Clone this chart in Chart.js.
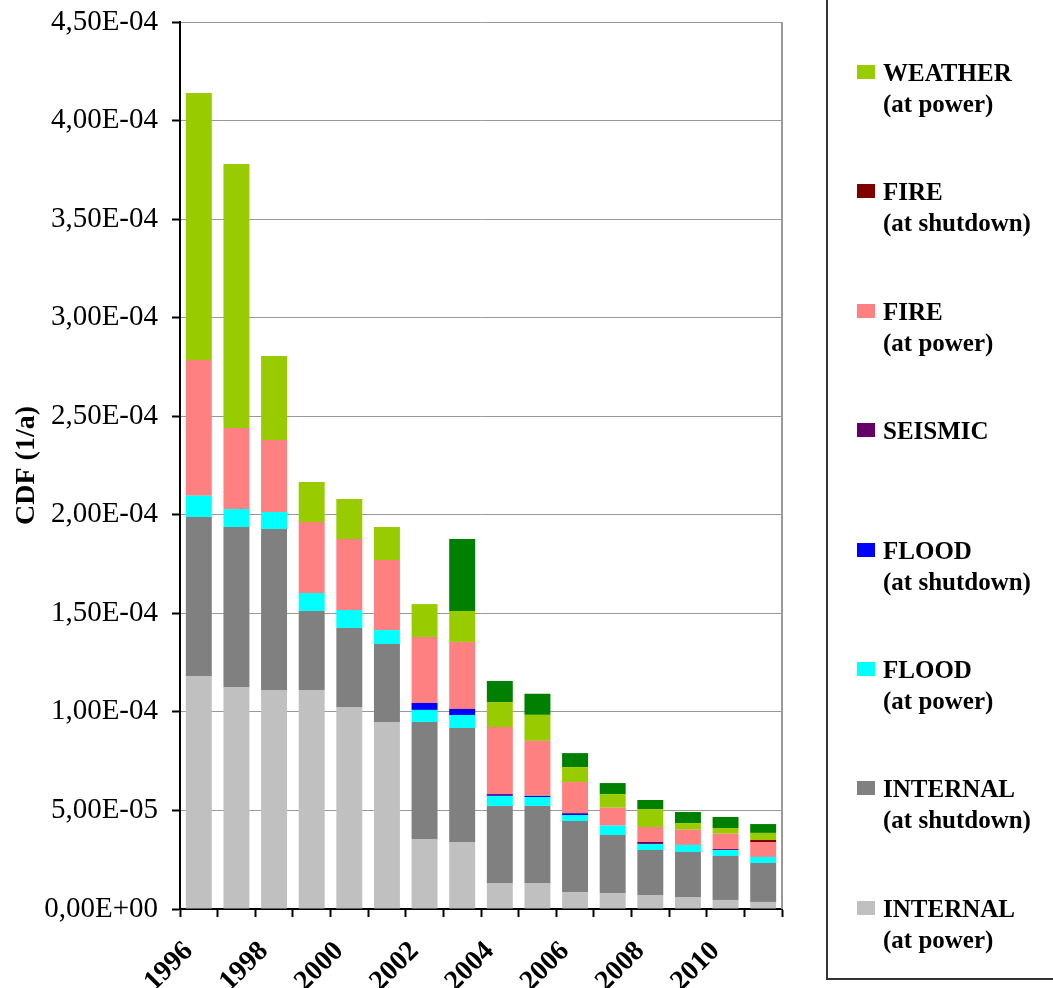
<!DOCTYPE html>
<html>
<head>
<meta charset="utf-8">
<script src="https://cdn.jsdelivr.net/npm/chart.js@4"></script>
<style>
  body { margin: 0; background: #fff; overflow: hidden; }
  #wrap { position: relative; width: 1053px; height: 988px; }
  #legend {
    position: absolute; left: 826px; top: -60px; width: 260px; height: 1040px;
    border: 2px solid #333; box-sizing: border-box;
    font-family: "Liberation Serif", "Times New Roman", serif; font-weight: bold; font-size: 25px;
  }
  .item { position: absolute; left: 29px; line-height: 31px; }
  .sw { position: absolute; left: 0; top: 8px; width: 18px; height: 14px; }
  .txt { margin-left: 26px; white-space: pre; }
</style>
</head>
<body>
<div id="wrap">
  <canvas id="chart"></canvas>
  <div id="legend"></div>
</div>
<script>
// --- Data (CDF per year, 1/a) ---
const years = ['1996','1997','1998','1999','2000','2001','2002','2003','2004','2005','2006','2007','2008','2009','2010','2011'];

const internalPower    = [1.182e-4, 1.126e-4, 1.111e-4, 1.111e-4, 1.025e-4, 0.949e-4, 0.355e-4, 0.340e-4, 0.132e-4, 0.132e-4, 0.086e-4, 0.081e-4, 0.071e-4, 0.061e-4, 0.046e-4, 0.036e-4];
const internalShutdown = [0.807e-4, 0.812e-4, 0.817e-4, 0.401e-4, 0.401e-4, 0.395e-4, 0.594e-4, 0.578e-4, 0.391e-4, 0.391e-4, 0.360e-4, 0.294e-4, 0.228e-4, 0.228e-4, 0.223e-4, 0.197e-4];
const floodPower       = [0.108e-4, 0.091e-4, 0.086e-4, 0.091e-4, 0.091e-4, 0.071e-4, 0.061e-4, 0.066e-4, 0.050e-4, 0.045e-4, 0.031e-4, 0.048e-4, 0.031e-4, 0.036e-4, 0.030e-4, 0.031e-4];
const floodShutdown    = [0, 0, 0, 0, 0, 0, 0.035e-4, 0.031e-4, 0.004e-4, 0.006e-4, 0.006e-4, 0, 0, 0, 0, 0];
const seismic          = [0, 0, 0, 0, 0, 0, 0, 0, 0.006e-4, 0, 0.004e-4, 0, 0.010e-4, 0, 0.005e-4, 0];
const firePower        = [0.688e-4, 0.411e-4, 0.365e-4, 0.360e-4, 0.360e-4, 0.355e-4, 0.335e-4, 0.340e-4, 0.340e-4, 0.279e-4, 0.157e-4, 0.091e-4, 0.076e-4, 0.077e-4, 0.078e-4, 0.076e-4];
const fireShutdown     = [0, 0, 0, 0, 0, 0, 0, 0, 0, 0, 0, 0, 0, 0, 0, 0.010e-4];
const weatherPower     = [1.355e-4, 1.339e-4, 0.426e-4, 0.203e-4, 0.203e-4, 0.168e-4, 0.167e-4, 0.157e-4, 0.127e-4, 0.132e-4, 0.076e-4, 0.069e-4, 0.091e-4, 0.034e-4, 0.029e-4, 0.036e-4];
const weatherShutdown  = [0, 0, 0, 0, 0, 0, 0, 0.365e-4, 0.107e-4, 0.107e-4, 0.071e-4, 0.056e-4, 0.046e-4, 0.056e-4, 0.056e-4, 0.045e-4];

// bottom to top; hidden = legend entry is cut off in the original
const series = [
  { label: 'INTERNAL\n(at power)',    data: internalPower,    color: '#C0C0C0' },
  { label: 'INTERNAL\n(at shutdown)', data: internalShutdown, color: '#808080' },
  { label: 'FLOOD\n(at power)',       data: floodPower,       color: '#00FFFF' },
  { label: 'FLOOD\n(at shutdown)',    data: floodShutdown,    color: '#0000FF' },
  { label: 'SEISMIC',                 data: seismic,          color: '#660066' },
  { label: 'FIRE\n(at power)',        data: firePower,        color: '#FF8080' },
  { label: 'FIRE\n(at shutdown)',     data: fireShutdown,     color: '#800000' },
  { label: 'WEATHER\n(at power)',     data: weatherPower,     color: '#99CC00' },
  { label: 'WEATHER\n(at shutdown)',  data: weatherShutdown,  color: '#008000', hidden: true }
];

const serif = '"Liberation Serif", "Times New Roman", serif';

// right border of the plot area
const frame = {
  id: 'frame',
  afterDraw(chart) {
    const { ctx, chartArea: a } = chart;
    ctx.save();
    ctx.strokeStyle = '#999';
    ctx.lineWidth = 2;
    ctx.beginPath();
    ctx.moveTo(a.right, a.top);
    ctx.lineTo(a.right, a.bottom);
    ctx.stroke();
    ctx.restore();
  }
};

function fmtSci(v) {
  // 4.5e-4 -> "4,50E-04"
  return v.toExponential(2).replace('.', ',').replace(/e([+-])(\d)$/, 'E$10$2').replace('e', 'E');
}

new Chart(document.getElementById('chart'), {
  type: 'bar',
  data: {
    labels: years,
    datasets: series.map(s => ({
      label: s.label,
      data: s.data,
      backgroundColor: s.color,
      borderWidth: 0,
      barPercentage: 0.69,
      categoryPercentage: 1
    }))
  },
  options: {
    responsive: true,
    maintainAspectRatio: false,
    animation: false,
    layout: { padding: { top: 22, right: 271, left: 0, bottom: 0 } },
    plugins: { legend: { display: false }, tooltip: { enabled: false } },
    scales: {
      x: {
        stacked: true,
        offset: true,
        grid: { offset: true, drawOnChartArea: false, tickLength: 8, tickColor: '#000', tickWidth: 2 },
        border: { color: '#000', width: 2 },
        ticks: {
          autoSkip: false,
          minRotation: 45,
          maxRotation: 45,
          padding: 18,
          labelOffset: -10,
          color: '#000',
          font: { family: serif, size: 28, weight: 'bold' },
          callback: (v, i) => (i % 2 === 0 ? years[i] : '')
        },
        afterFit: s => { s.height = 79; }
      },
      y: {
        stacked: true,
        min: 0,
        max: 4.5e-4,
        grid: { color: '#999', lineWidth: 1, tickLength: 8, tickColor: '#000', tickWidth: 2 },
        border: { color: '#000', width: 2 },
        ticks: {
          stepSize: 5e-5,
          padding: 14,
          color: '#000',
          font: { family: serif, size: 29 },
          callback: v => fmtSci(v)
        },
        title: {
          display: true,
          text: 'CDF (1/a)',
          color: '#000',
          font: { family: serif, size: 28, weight: 'bold' },
          padding: { top: 10, bottom: 0 }
        },
        afterFit: s => { s.width = 180; s.paddingTop = 0; s.paddingBottom = 0; }
      }
    }
  },
  plugins: [frame]
});

// legend, top entry first
const legend = document.getElementById('legend');
series.slice().reverse().filter(s => !s.hidden).forEach((s, i) => {
  const item = document.createElement('div');
  item.className = 'item';
  item.style.top = (115 + i * 119.4) + 'px';
  item.innerHTML = '<span class="sw" style="background:' + s.color + '"></span><div class="txt"></div>';
  item.querySelector('.txt').textContent = s.label;
  legend.appendChild(item);
});
</script>
</body>
</html>
